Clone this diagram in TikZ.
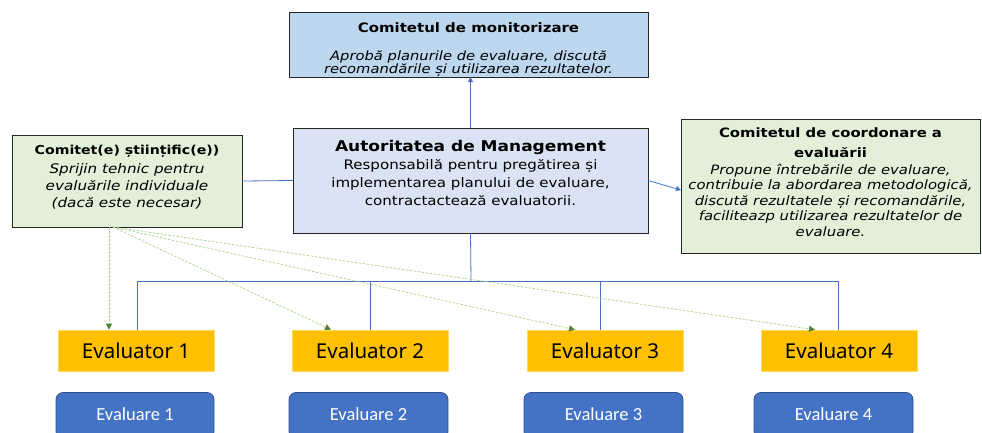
\documentclass[tikz,border=0pt]{standalone}
\usepackage{fontspec}
\setmainfont{DejaVu Sans}[FakeStretch=1.15]
\newfontfamily\calfont{Carlito}
\newfontfamily\evfont{Noto Sans}
\usetikzlibrary{arrows.meta,calc}
\definecolor{monfill}{HTML}{BDD7EE}
\definecolor{amfill}{HTML}{DAE3F3}
\definecolor{grfill}{HTML}{E2F0D9}
\definecolor{evyel}{HTML}{FFC000}
\definecolor{evblue}{HTML}{4472C4}
\definecolor{evborder}{HTML}{2F528F}
\definecolor{conn}{HTML}{4472C4}
\definecolor{dashg}{HTML}{A9D18E}
\definecolor{tipg}{HTML}{548235}
\lineskip=0pt
\tikzset{
  x=1pt, y=-1pt,
  boxstyle/.style={draw=black!85, line width=0.8pt, inner sep=0pt, outer sep=0pt},
  txt/.style={align=center, inner sep=0pt, anchor=north},
  evalbox/.style={fill=evyel, draw=evyel!60!white, line width=0.6pt, minimum width=156pt, minimum height=41pt, inner sep=0pt, font=\evfont\fontsize{20.5}{22}\selectfont},
  evbox/.style={fill=evblue, draw=evborder, line width=0.8pt, rounded corners=7pt, minimum width=158pt, minimum height=46pt, inner sep=0pt},
  evtxt/.style={text=white, font=\calfont\fontsize{18.5}{20}\selectfont, inner sep=0pt},
  bluecon/.style={draw=conn, line width=0.8pt},
  bluearr/.style={draw=conn, line width=0.8pt, -{Triangle[length=5pt,width=5pt]}},
  greenarr/.style={draw=dashg, line width=0.7pt, dash pattern=on 2.5pt off 1.5pt, -{Triangle[length=6pt,width=6pt,fill=tipg,color=tipg]}}
}
\begin{document}
\begin{tikzpicture}
\useasboundingbox (0,0) rectangle (982,432);
% boxes
\node[boxstyle, fill=monfill, minimum width=359pt, minimum height=65pt] (mon) at (468.5,44.5) {};
\node[txt, font=\fontsize{12.8}{13.6}\selectfont] (montxt) at (468.5,22) {{\fontsize{13}{14}\selectfont\bfseries Comitetul de monitorizare}\\[14.6pt]\textit{Aprobă planurile de evaluare, discută}\\\textit{recomandările și utilizarea rezultatelor.}};
\node[boxstyle, fill=amfill, minimum width=355pt, minimum height=105pt] (am) at (470.5,180.5) {};
\node[txt, font=\fontsize{13.1}{18}\selectfont] (amtxt) at (470.5,140) {{\fontsize{14.8}{16}\selectfont\bfseries Autoritatea de Management}\\Responsabilă pentru pregătirea și\\implementarea planului de evaluare,\\contractactează evaluatorii.};
\node[boxstyle, fill=grfill, minimum width=230pt, minimum height=92pt] (sci) at (127,181) {};
\node[txt, font=\fontsize{13.2}{17}\selectfont] (scitxt) at (127,144.7) {{\fontsize{12.3}{13}\selectfont\bfseries Comitet(e) științific(e))}\\[2pt]\textit{Sprijin tehnic pentru}\\\textit{evaluările individuale}\\\textit{(dacă este necesar)}};
\node[boxstyle, fill=grfill, minimum width=299pt, minimum height=134pt] (coord) at (830.5,186) {};
\node[txt, font=\fontsize{12.9}{15.4}\selectfont] (coordtxt) at (830.5,127.9) {{\bfseries Comitetul de coordonare a}\\[4.6pt]{\bfseries evaluării}\\[1.2pt]\textit{Propune întrebările de evaluare,}\\\textit{contribuie la abordarea metodologică,}\\\textit{discută rezultatele și recomandările,}\\\textit{faciliteazp utilizarea rezultatelor de}\\\textit{evaluare.}};
% evaluators
\node[evalbox] (ev1) at (136,350.5) {Evaluator 1};
\node[evalbox] (ev2) at (370,350.5) {Evaluator 2};
\node[evalbox] (ev3) at (605,350.5) {Evaluator 3};
\node[evalbox] (ev4) at (839,350.5) {Evaluator 4};
% evaluations
\node[evbox] (ea1) at (135,415.5) {};
\node[evbox, minimum width=159pt] (ea2) at (368.5,415.5) {};
\node[evbox, minimum width=159pt] (ea3) at (603.5,415.5) {};
\node[evbox, minimum width=159pt] (ea4) at (833.5,415.5) {};
\node[evtxt] (ea1t) at (135,414) {Evaluare 1};
\node[evtxt] (ea2t) at (368.5,414) {Evaluare 2};
\node[evtxt] (ea3t) at (603.5,414) {Evaluare 3};
\node[evtxt] (ea4t) at (833.5,414) {Evaluare 4};
% connectors
\draw[bluearr] (am.north) -- (am.north |- mon.south);
\draw[bluecon] (sci.east) -- (am.west);
\draw[bluearr] (am.east) -- ($(coord.west)+(0,4)$);
\coordinate (bar) at (471,281);
\draw[bluecon] (am.south) -- (bar);
\coordinate (t1) at ([xshift=1pt]ev1.north);
\coordinate (t2) at (ev2.north);
\coordinate (t3) at ([xshift=-5pt]ev3.north);
\coordinate (t4) at ([xshift=-1pt]ev4.north);
\draw[bluecon] (t1 |- bar) -- (t1);
\draw[bluecon] (t2 |- bar) -- (t2);
\draw[bluecon] (t3 |- bar) -- (t3);
\draw[bluecon] (t4 |- bar) -- (t4);
\draw[bluecon] (t1 |- bar) -- (t4 |- bar);
% dashed green
\draw[greenarr] ([xshift=-18pt]sci.south) -- ([xshift=-27pt]ev1.north);
\draw[greenarr] ([xshift=-14pt]sci.south) -- ([xshift=-39pt]ev2.north);
\draw[greenarr] ([xshift=-14pt]sci.south) -- ([xshift=-30pt]ev3.north);
\draw[greenarr] ([xshift=-14pt]sci.south) -- ([xshift=-24pt]ev4.north);
\end{tikzpicture}
\end{document}
